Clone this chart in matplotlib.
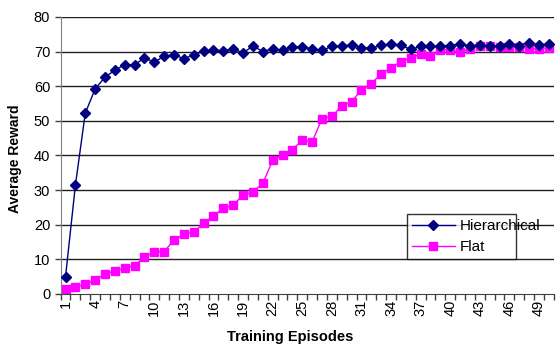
import numpy as np
import matplotlib
matplotlib.use('Agg')
import matplotlib.pyplot as plt

plt.rcParams['font.family'] = ['Liberation Sans', 'DejaVu Sans']

# Episode numbers and the two reward series
episodes = np.arange(1, 51)
hierarchical = [5.0, 31.4, 52.2, 59.2, 62.6, 64.6, 66.2, 66.2, 68.1, 67.0,
                68.6, 69.1, 67.9, 69.1, 70.1, 70.5, 70.1, 70.8, 69.6, 71.6,
                70.0, 70.8, 70.3, 71.3, 71.3, 70.8, 70.3, 71.5, 71.5, 72.0,
                71.0, 71.0, 71.8, 72.2, 71.8, 70.6, 71.5, 71.5, 71.7, 71.7,
                72.2, 71.5, 72.0, 71.5, 71.7, 72.2, 71.7, 72.6, 72.0, 72.2]
flat = [1.4, 1.9, 2.8, 4.0, 5.7, 6.7, 7.4, 8.2, 10.6, 12.2,
        12.2, 15.6, 17.2, 17.9, 20.4, 22.5, 24.7, 25.7, 28.5, 29.5,
        31.9, 38.6, 40.1, 41.7, 44.4, 43.9, 50.6, 51.3, 54.2, 55.5,
        59.0, 60.7, 63.6, 65.3, 67.1, 68.2, 69.2, 68.6, 70.5, 70.5,
        69.8, 70.8, 71.5, 71.5, 71.3, 71.3, 71.3, 70.8, 70.8, 71.1]
xticklabels = episodes[::3]
yticks = np.arange(0, 81, 10)

fig = plt.figure(figsize=(5.56, 3.45), dpi=100)
ax = fig.add_axes([0.109, 0.148, 0.887, 0.803])

for y in yticks[1:]:
    ax.axhline(y, color='#202020', lw=1.0, zorder=1)

ax.plot(episodes, hierarchical, color='#000080', lw=1.0, marker='D',
        markersize=4.8, label='Hierarchical', zorder=3)
ax.plot(episodes, flat, color='#FF00FF', lw=1.0, marker='s',
        markersize=5.5, label='Flat', zorder=2)

ax.set_xlim(0.5, 50.5)
ax.set_ylim(0, 80)
ax.set_yticks(yticks)
ax.set_xticks(xticklabels)
ax.set_xticklabels([str(v) for v in xticklabels], rotation=90, fontsize=10.5)
ax.set_xticks(np.arange(0.5, 51, 1), minor=True)
ax.tick_params(axis='x', which='major', length=0, pad=4)
ax.tick_params(axis='x', which='minor', length=4, width=1, color='#404040')
ax.tick_params(axis='y', length=4, width=1, color='#404040', labelsize=10.5)

for side in ['top', 'right']:
    ax.spines[side].set_visible(False)
ax.spines['left'].set_color('#808080')
ax.spines['bottom'].set_color('#404040')

fig.text(0.027, 0.54, 'Average Reward', rotation=90, fontsize=10,
         fontweight='bold', ha='center', va='center')
fig.text(0.522, 0.022, 'Training Episodes', fontsize=10.5,
         fontweight='bold', ha='center', va='center')

leg = ax.legend(loc='lower left', bbox_to_anchor=(0.686, 0.097, 0.252, 0.181),
                mode='expand', fontsize=11, frameon=True, fancybox=False,
                borderpad=0.35, handlelength=2.8, handletextpad=0.3,
                labelspacing=0.45)
leg.get_frame().set_edgecolor('black')
leg.get_frame().set_linewidth(1.0)

fig.savefig('out.png', dpi=100)
